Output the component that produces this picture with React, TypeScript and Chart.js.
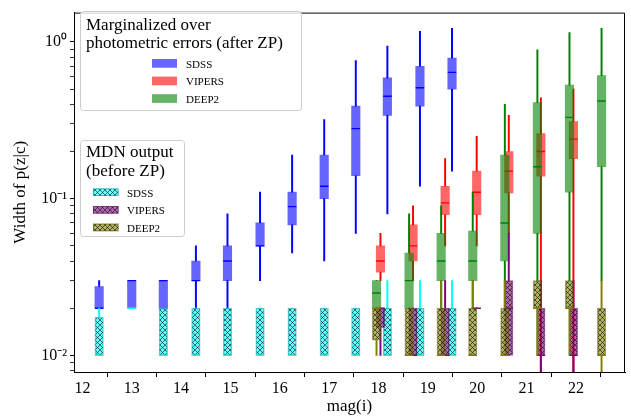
import React, { useEffect, useRef } from "react";
import { Chart, registerables } from "chart.js";

Chart.register(...registerables);

// ---- axes ----
const X_MIN = 11.83;
const X_MAX = 22.995;
const Y_MIN = 0.00783;
const Y_MAX = 1.54;
const X_TICKS = [12, 13, 14, 15, 16, 17, 18, 19, 20, 21, 22];
const Y_TICKS = [0.008, 0.009, 0.01, 0.02, 0.03, 0.04, 0.05, 0.06, 0.07, 0.08, 0.09, 0.1, 0.2, 0.3, 0.4, 0.5, 0.6, 0.7, 0.8, 0.9, 1];
const Y_MAJOR = [0.01, 0.1, 1];
const Y_MAJOR_LABELS = ["10⁻²", "10⁻¹", "10⁰"];

// ---- Marginalized over photometric errors (after ZP) ----
const SDSS_POS = [12.34, 13.0, 13.64, 14.3, 14.94, 15.6, 16.25, 16.9, 17.54, 18.18, 18.84, 19.49];
const SDSS_LOW = [0.02, 0.02, 0.02, 0.02, 0.02, 0.03, 0.045, 0.04, 0.06, 0.08, 0.12, 0.15];
const SDSS_Q1 = [0.02, 0.02, 0.02, 0.03, 0.03, 0.05, 0.068, 0.1, 0.14, 0.34, 0.39, 0.5];
const SDSS_MED = [0.02, 0.03, 0.03, 0.03, 0.04, 0.05, 0.089, 0.12, 0.28, 0.45, 0.51, 0.64];
const SDSS_Q3 = [0.0275, 0.03, 0.03, 0.04, 0.05, 0.07, 0.11, 0.19, 0.39, 0.59, 0.7, 0.79];
const SDSS_HIGH = [0.03, 0.03, 0.03, 0.05, 0.08, 0.11, 0.19, 0.32, 0.76, 0.94, 1.17, 1.22];

const VIP_POS = [18.04, 18.7, 19.35, 19.99, 20.64, 21.29, 21.95];
const VIP_LOW = [0.03, 0.03, 0.05, 0.05, 0.06, 0.005, 0.005];
const VIP_Q1 = [0.034, 0.04, 0.079, 0.079, 0.109, 0.139, 0.18];
const VIP_MED = [0.04, 0.05, 0.094, 0.11, 0.15, 0.2, 0.24];
const VIP_Q3 = [0.05, 0.068, 0.12, 0.15, 0.2, 0.26, 0.31];
const VIP_HIGH = [0.06, 0.09, 0.18, 0.25, 0.34, 0.44, 0.5];

const D2_POS = [17.96, 18.62, 19.27, 19.91, 20.56, 21.22, 21.87, 22.52];
const D2_LOW = [0.02, 0.02, 0.02, 0.02, 0.02, 0.03, 0.03, 0.03];
const D2_Q1 = [0.02, 0.02, 0.03, 0.03, 0.04, 0.06, 0.11, 0.16];
const D2_MED = [0.025, 0.03, 0.04, 0.04, 0.07, 0.16, 0.33, 0.42];
const D2_Q3 = [0.03, 0.045, 0.06, 0.062, 0.19, 0.41, 0.53, 0.61];
const D2_HIGH = [0.03, 0.08, 0.09, 0.11, 0.4, 0.89, 1.15, 1.22];

// ---- MDN output (before ZP) ----
const MS_LOW = [0.01, 0.02, 0.01, 0.01, 0.01, 0.01, 0.01, 0.01, 0.01, 0.01, 0.01, 0.01];
const MS_Q1 = [0.01, 0.02, 0.01, 0.01, 0.01, 0.01, 0.01, 0.01, 0.01, 0.01, 0.01, 0.01];
const MS_MED = [0.01, 0.02, 0.01, 0.01, 0.01, 0.01, 0.01, 0.01, 0.01, 0.01, 0.01, 0.01];
const MS_Q3 = [0.0175, 0.02, 0.02, 0.02, 0.02, 0.02, 0.02, 0.02, 0.02, 0.02, 0.02, 0.02];
const MS_HIGH = [0.02, 0.02, 0.02, 0.02, 0.02, 0.02, 0.02, 0.02, 0.02, 0.03, 0.03, 0.03];

const MV_LOW = [0.01, 0.01, 0.01, 0.02, 0.01, 0.005, 0.005];
const MV_Q1 = [0.015, 0.01, 0.01, 0.02, 0.01, 0.01, 0.01];
const MV_MED = [0.02, 0.01, 0.01, 0.02, 0.02, 0.01, 0.01];
const MV_Q3 = [0.02, 0.02, 0.02, 0.02, 0.03, 0.02, 0.02];
const MV_HIGH = [0.02, 0.02, 0.03, 0.02, 0.06, 0.03, 0.03];

const MD_LOW = [0.01, 0.01, 0.01, 0.01, 0.01, 0.01, 0.01, 0.005];
const MD_Q1 = [0.0125, 0.01, 0.01, 0.01, 0.01, 0.02, 0.02, 0.01];
const MD_MED = [0.02, 0.01, 0.01, 0.01, 0.01, 0.02, 0.02, 0.01];
const MD_Q3 = [0.02, 0.02, 0.02, 0.02, 0.02, 0.03, 0.03, 0.02];
const MD_HIGH = [0.02, 0.02, 0.03, 0.03, 0.03, 0.03, 0.03, 0.03];

const LEGEND1_TITLE = ["Marginalized over", "photometric errors (after ZP)"];
const LEGEND2_TITLE = ["MDN output", "(before ZP)"];
const SURVEYS = ["SDSS", "VIPERS", "DEEP2"];

const FONT = '"Liberation Serif", "Times New Roman", serif';

function makeHatch(fill: string): CanvasPattern | string {
  const n = 5;
  const c = document.createElement("canvas");
  c.width = n;
  c.height = n;
  const g = c.getContext("2d");
  if (!g) return fill;
  g.fillStyle = fill;
  g.fillRect(0, 0, n, n);
  g.strokeStyle = "rgba(0,0,0,0.55)";
  g.lineWidth = 1;
  g.beginPath();
  g.moveTo(-1, -1);
  g.lineTo(n + 1, n + 1);
  g.moveTo(-1, n + 1);
  g.lineTo(n + 1, -1);
  g.stroke();
  const p = g.createPattern(c, "repeat");
  return p || fill;
}

type Series = {
  pos: number[];
  low: number[];
  q1: number[];
  med: number[];
  q3: number[];
  high: number[];
  fill: any;
  line: string;
  edge: string;
  hatch: boolean;
};

function boxDatasets(s: Series, order: number) {
  const box = {
    type: "bar",
    data: s.pos.map((x, i) => ({ x, y: [s.q1[i], s.q3[i]] })),
    backgroundColor: s.fill,
    borderColor: s.edge,
    borderWidth: s.hatch ? 1 : 0,
    borderSkipped: false,
    barThickness: 8.5,
    grouped: false,
    order: order,
  };
  const upper = {
    type: "bar",
    data: s.pos.map((x, i) => ({ x, y: [s.q3[i], s.high[i]] })),
    backgroundColor: s.line,
    borderWidth: 0,
    barThickness: 1.3,
    grouped: false,
    order: order + 0.2,
  };
  const lower = {
    type: "bar",
    data: s.pos.map((x, i) => ({ x, y: [s.low[i], s.q1[i]] })),
    backgroundColor: s.line,
    borderWidth: 0,
    barThickness: 1.3,
    grouped: false,
    order: order + 0.2,
  };
  const median = {
    type: "scatter",
    data: s.pos.map((x, i) => ({ x, y: s.med[i] })),
    pointStyle: "line",
    pointRadius: 4.25,
    borderColor: s.line,
    borderWidth: 1.4,
    showLine: false,
    order: order - 0.2,
  };
  return [box, upper, lower, median];
}

function roundRect(ctx: CanvasRenderingContext2D, x: number, y: number, w: number, h: number, r: number) {
  ctx.beginPath();
  ctx.moveTo(x + r, y);
  ctx.lineTo(x + w - r, y);
  ctx.quadraticCurveTo(x + w, y, x + w, y + r);
  ctx.lineTo(x + w, y + h - r);
  ctx.quadraticCurveTo(x + w, y + h, x + w - r, y + h);
  ctx.lineTo(x + r, y + h);
  ctx.quadraticCurveTo(x, y + h, x, y + h - r);
  ctx.lineTo(x, y + r);
  ctx.quadraticCurveTo(x, y, x + r, y);
  ctx.closePath();
}

export default function App() {
  const ref = useRef<HTMLCanvasElement>(null);

  useEffect(() => {
    const canvas = ref.current;
    if (!canvas) return;

    const zpFills = ["rgba(0,0,255,0.6)", "rgba(255,0,0,0.6)", "rgba(0,128,0,0.6)"];
    const zpLines = ["#0000ff", "#ff0000", "#008000"];
    const mdnFills = [
      makeHatch("rgba(0,255,255,0.6)"),
      makeHatch("rgba(128,0,128,0.6)"),
      makeHatch("rgba(128,128,0,0.6)"),
    ];
    const mdnLines = ["#00ffff", "#800080", "#808000"];
    const mdnEdges = ["rgba(0,150,150,0.55)", "rgba(90,0,90,0.55)", "rgba(90,90,0,0.55)"];

    const zpSeries: Series[] = [
      { pos: SDSS_POS, low: SDSS_LOW, q1: SDSS_Q1, med: SDSS_MED, q3: SDSS_Q3, high: SDSS_HIGH, fill: zpFills[0], line: zpLines[0], edge: zpLines[0], hatch: false },
      { pos: VIP_POS, low: VIP_LOW, q1: VIP_Q1, med: VIP_MED, q3: VIP_Q3, high: VIP_HIGH, fill: zpFills[1], line: zpLines[1], edge: zpLines[1], hatch: false },
      { pos: D2_POS, low: D2_LOW, q1: D2_Q1, med: D2_MED, q3: D2_Q3, high: D2_HIGH, fill: zpFills[2], line: zpLines[2], edge: zpLines[2], hatch: false },
    ];
    const mdnSeries: Series[] = [
      { pos: SDSS_POS, low: MS_LOW, q1: MS_Q1, med: MS_MED, q3: MS_Q3, high: MS_HIGH, fill: mdnFills[0], line: mdnLines[0], edge: mdnEdges[0], hatch: true },
      { pos: VIP_POS, low: MV_LOW, q1: MV_Q1, med: MV_MED, q3: MV_Q3, high: MV_HIGH, fill: mdnFills[1], line: mdnLines[1], edge: mdnEdges[1], hatch: true },
      { pos: D2_POS, low: MD_LOW, q1: MD_Q1, med: MD_MED, q3: MD_Q3, high: MD_HIGH, fill: mdnFills[2], line: mdnLines[2], edge: mdnEdges[2], hatch: true },
    ];

    const datasets: any[] = [];
    zpSeries.forEach((s, i) => datasets.push(...boxDatasets(s, 20 - i * 2)));
    mdnSeries.forEach((s, i) => datasets.push(...boxDatasets(s, 10 - i * 2)));

    const legendPlugin = {
      id: "boxLegends",
      afterDraw(chart: any) {
        const ctx: CanvasRenderingContext2D = chart.ctx;
        const a = chart.chartArea;
        ctx.save();
        // top & right spines
        ctx.strokeStyle = "#000";
        ctx.lineWidth = 1;
        ctx.beginPath();
        ctx.moveTo(a.left, a.top + 0.5);
        ctx.lineTo(a.right - 0.5, a.top + 0.5);
        ctx.lineTo(a.right - 0.5, a.bottom);
        ctx.stroke();

        // legend 1
        roundRect(ctx, 80.5, 11.5, 221, 99, 3);
        ctx.fillStyle = "rgba(255,255,255,0.8)";
        ctx.fill();
        ctx.strokeStyle = "#cccccc";
        ctx.stroke();
        ctx.fillStyle = "#000";
        ctx.textBaseline = "alphabetic";
        ctx.textAlign = "left";
        ctx.font = `17px ${FONT}`;
        ctx.fillText(LEGEND1_TITLE[0], 86, 29.5);
        ctx.fillText(LEGEND1_TITLE[1], 86, 48);
        ctx.font = `11px ${FONT}`;
        SURVEYS.forEach((name, i) => {
          const y = 59 + i * 17.6;
          ctx.fillStyle = zpFills[i];
          ctx.fillRect(152, y, 25, 8.7);
          ctx.fillStyle = "#000";
          ctx.fillText(name, 186, y + 8.5);
        });

        // legend 2
        roundRect(ctx, 80.5, 140.5, 104, 96, 3);
        ctx.fillStyle = "rgba(255,255,255,0.8)";
        ctx.fill();
        ctx.strokeStyle = "#cccccc";
        ctx.stroke();
        ctx.fillStyle = "#000";
        ctx.font = `17px ${FONT}`;
        ctx.fillText(LEGEND2_TITLE[0], 86, 157);
        ctx.fillText(LEGEND2_TITLE[1], 86, 175.5);
        ctx.font = `11px ${FONT}`;
        SURVEYS.forEach((name, i) => {
          const y = 188.5 + i * 17.6;
          ctx.fillStyle = mdnFills[i] as any;
          ctx.fillRect(93, y, 25.5, 7.5);
          ctx.strokeStyle = mdnEdges[i];
          ctx.strokeRect(93.5, y + 0.5, 24.5, 6.5);
          ctx.fillStyle = "#000";
          ctx.fillText(name, 127, y + 8);
        });
        ctx.restore();
      },
    };

    const chart = new Chart(canvas, {
      type: "bar",
      data: { datasets },
      options: {
        animation: false,
        responsive: false,
        maintainAspectRatio: false,
        devicePixelRatio: 1,
        events: [],
        layout: { padding: { top: 5, right: 6, left: 0, bottom: 0 } },
        plugins: { legend: { display: false }, tooltip: { enabled: false } },
        scales: {
          x: {
            type: "linear",
            min: X_MIN,
            max: X_MAX,
            offset: false,
            afterBuildTicks: (scale: any) => {
              scale.ticks = X_TICKS.map((v) => ({ value: v }));
            },
            afterFit: (scale: any) => {
              scale.height = 46;
            },
            grid: { drawOnChartArea: false, drawTicks: true, tickLength: 5, tickColor: "#000", color: "#000" },
            border: { display: true, color: "#000", width: 1 },
            ticks: {
              autoSkip: false,
              maxRotation: 0,
              padding: 2,
              color: "#000",
              font: { family: FONT, size: 16 },
              callback: (v: any) => String(v),
            },
            title: {
              display: true,
              text: "mag(i)",
              color: "#000",
              font: { family: FONT, size: 17, lineHeight: 1.2 },
              padding: { top: 0, bottom: 1 },
            },
          },
          y: {
            type: "logarithmic",
            min: Y_MIN,
            max: Y_MAX,
            afterBuildTicks: (scale: any) => {
              scale.ticks = Y_TICKS.map((v) => ({ value: v, major: Y_MAJOR.includes(v) }));
            },
            afterFit: (scale: any) => {
              scale.width = 74;
            },
            grid: {
              drawOnChartArea: false,
              drawTicks: true,
              tickLength: 4,
              tickColor: "#000",
              tickWidth: (c: any) => (c.tick && Y_MAJOR.includes(c.tick.value) ? 1 : 0.8),
            },
            border: { display: true, color: "#000", width: 1 },
            ticks: {
              autoSkip: false,
              padding: 3,
              color: "#000",
              font: { family: FONT, size: 16 },
              callback: (v: any) => {
                const k = Y_MAJOR.indexOf(Number(v));
                return k >= 0 ? Y_MAJOR_LABELS[k] : "";
              },
            },
            title: {
              display: true,
              text: "Width of p(z|c)",
              color: "#000",
              font: { family: FONT, size: 17, lineHeight: 1.2 },
              padding: { top: 10, bottom: 0 },
            },
          },
        },
      } as any,
      plugins: [legendPlugin],
    } as any);

    return () => chart.destroy();
  }, []);

  return (
    <div style={{ width: 631, height: 418, position: "relative" }}>
      <style>{"body{margin:0}"}</style>
      <canvas ref={ref} width={631} height={418} style={{ display: "block", width: 631, height: 418 }} />
    </div>
  );
}
